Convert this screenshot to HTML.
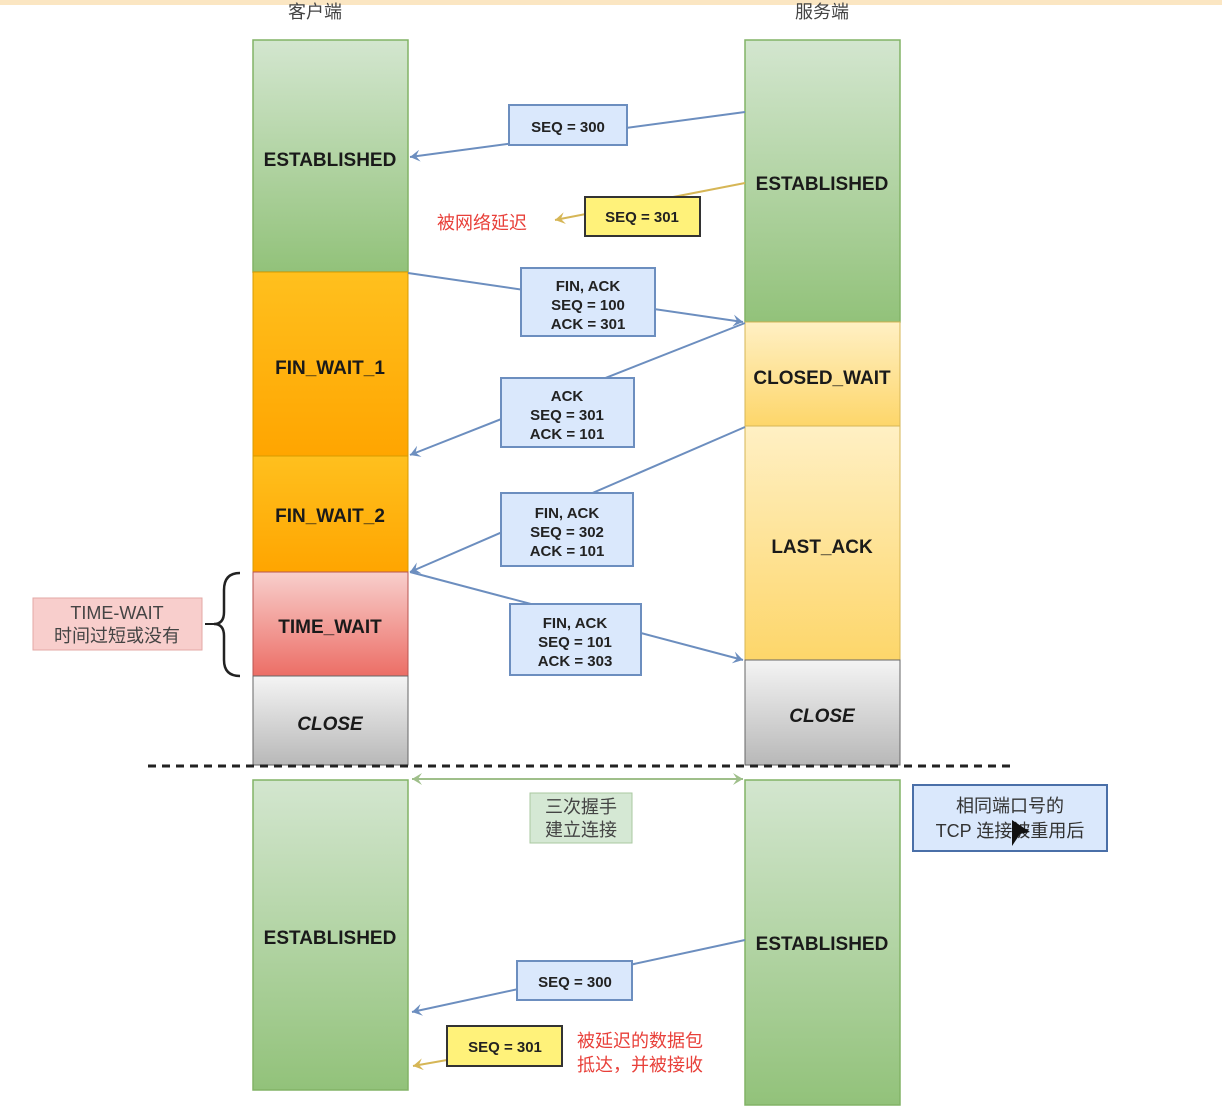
<!DOCTYPE html>
<html><head><meta charset="utf-8"><style>
html,body{margin:0;padding:0;background:#fff;}
svg{display:block;}
text{font-family:"Liberation Sans","Noto Sans CJK SC",sans-serif;}
.s{font-weight:bold;font-size:19px;fill:#1a1a1a;text-anchor:middle;}
.m{font-weight:bold;font-size:15px;fill:#222;text-anchor:middle;}
</style></head><body>
<svg width="1222" height="1118" viewBox="0 0 1222 1118" xmlns="http://www.w3.org/2000/svg">
<defs>
<linearGradient id="g" x1="0" y1="0" x2="0" y2="1"><stop offset="0" stop-color="#d3e6cf"/><stop offset="1" stop-color="#92c27a"/></linearGradient>
<linearGradient id="o" x1="0" y1="0" x2="0" y2="1"><stop offset="0" stop-color="#ffc01e"/><stop offset="1" stop-color="#ffa500"/></linearGradient>
<linearGradient id="y" x1="0" y1="0" x2="0" y2="1"><stop offset="0" stop-color="#fff0c4"/><stop offset="1" stop-color="#fdd66a"/></linearGradient>
<linearGradient id="r" x1="0" y1="0" x2="0" y2="1"><stop offset="0" stop-color="#f8cfcc"/><stop offset="1" stop-color="#ec6e66"/></linearGradient>
<linearGradient id="c" x1="0" y1="0" x2="0" y2="1"><stop offset="0" stop-color="#f4f4f4"/><stop offset="1" stop-color="#b8b8b8"/></linearGradient>
<marker id="ab" markerWidth="12" markerHeight="12" refX="10" refY="6" orient="auto" markerUnits="userSpaceOnUse"><path d="M0,0 L10,6 L0,12 L4,6 z" fill="#6c8ebf"/></marker>
<marker id="ay" markerWidth="12" markerHeight="12" refX="10" refY="6" orient="auto" markerUnits="userSpaceOnUse"><path d="M0,0 L10,6 L0,12 L4,6 z" fill="#d6b656"/></marker>
<marker id="ag" markerWidth="12" markerHeight="12" refX="10" refY="6" orient="auto" markerUnits="userSpaceOnUse"><path d="M0,0 L10,6 L0,12 L4,6 z" fill="#9fbf8a"/></marker>
<marker id="ags" markerWidth="12" markerHeight="12" refX="2" refY="6" orient="auto" markerUnits="userSpaceOnUse"><path d="M12,0 L2,6 L12,12 L8,6 z" fill="#9fbf8a"/></marker>
</defs>
<rect x="0" y="0" width="1222" height="5" fill="#fbe6c2"/>
<text x="315" y="18" font-size="18" fill="#444" text-anchor="middle">客户端</text>
<text x="822" y="18" font-size="18" fill="#444" text-anchor="middle">服务端</text>

<g stroke="#82b366" stroke-width="1.5">
<rect x="253" y="40" width="155" height="232" fill="url(#g)"/>
<rect x="745" y="40" width="155" height="282" fill="url(#g)"/>
<rect x="253" y="780" width="155" height="310" fill="url(#g)"/>
<rect x="745" y="780" width="155" height="325" fill="url(#g)"/>
</g>
<g stroke="#d79b00" stroke-width="1">
<rect x="253" y="272" width="155" height="184" fill="url(#o)"/>
<rect x="253" y="456" width="155" height="116" fill="url(#o)"/>
</g>
<g stroke="#d6b656" stroke-width="1">
<rect x="745" y="322" width="155" height="104" fill="url(#y)"/>
<rect x="745" y="426" width="155" height="234" fill="url(#y)"/>
</g>
<rect x="253" y="572" width="155" height="104" fill="url(#r)" stroke="#b85450"/>
<rect x="253" y="676" width="155" height="89" fill="url(#c)" stroke="#666"/>
<rect x="745" y="660" width="155" height="105" fill="url(#c)" stroke="#666"/>

<text class="s" x="330" y="166">ESTABLISHED</text>
<text class="s" x="822" y="190">ESTABLISHED</text>
<text class="s" x="330" y="374">FIN_WAIT_1</text>
<text class="s" x="330" y="522">FIN_WAIT_2</text>
<text class="s" x="330" y="633">TIME_WAIT</text>
<text class="s" x="330" y="730" font-style="italic">CLOSE</text>
<text class="s" x="822" y="384">CLOSED_WAIT</text>
<text class="s" x="822" y="553">LAST_ACK</text>
<text class="s" x="822" y="722" font-style="italic">CLOSE</text>
<text class="s" x="330" y="944">ESTABLISHED</text>
<text class="s" x="822" y="950">ESTABLISHED</text>

<line x1="148" y1="766" x2="1012" y2="766" stroke="#222" stroke-width="3" stroke-dasharray="8,6"/>

<g stroke="#6c8ebf" stroke-width="2" fill="none">
<line x1="745" y1="112" x2="410" y2="157" marker-end="url(#ab)"/>
<line x1="408" y1="273" x2="743" y2="322" marker-end="url(#ab)"/>
<line x1="745" y1="323" x2="410" y2="455" marker-end="url(#ab)"/>
<line x1="745" y1="427" x2="410" y2="572" marker-end="url(#ab)"/>
<line x1="410" y1="572" x2="743" y2="660" marker-end="url(#ab)"/>
<line x1="745" y1="940" x2="412" y2="1012" marker-end="url(#ab)"/>
</g>
<g stroke="#d6b656" stroke-width="2" fill="none">
<line x1="745" y1="183" x2="555" y2="220" marker-end="url(#ay)"/>
<line x1="447" y1="1060" x2="413" y2="1066" marker-end="url(#ay)"/>
</g>
<line x1="412" y1="779" x2="743" y2="779" stroke="#9fbf8a" stroke-width="2" marker-end="url(#ag)" marker-start="url(#ags)"/>

<g fill="#dae8fc" stroke="#6c8ebf" stroke-width="2">
<rect x="509" y="105" width="118" height="40"/>
<rect x="521" y="268" width="134" height="68"/>
<rect x="501" y="378" width="133" height="69"/>
<rect x="501" y="493" width="132" height="73"/>
<rect x="510" y="604" width="131" height="71"/>
<rect x="517" y="961" width="115" height="39"/>
</g>
<g fill="#fff2a0" stroke="#333" stroke-width="2">
<rect x="585" y="197" width="115" height="39" fill="#fff27a"/>
<rect x="447" y="1026" width="115" height="40" fill="#fff27a"/>
</g>
<text class="m" x="568" y="132">SEQ = 300</text>
<text class="m" x="642" y="222">SEQ = 301</text>
<text class="m" x="588" y="291">FIN, ACK</text>
<text class="m" x="588" y="310">SEQ = 100</text>
<text class="m" x="588" y="329">ACK = 301</text>
<text class="m" x="567" y="401">ACK</text>
<text class="m" x="567" y="420">SEQ = 301</text>
<text class="m" x="567" y="439">ACK = 101</text>
<text class="m" x="567" y="518">FIN, ACK</text>
<text class="m" x="567" y="537">SEQ = 302</text>
<text class="m" x="567" y="556">ACK = 101</text>
<text class="m" x="575" y="628">FIN, ACK</text>
<text class="m" x="575" y="647">SEQ = 101</text>
<text class="m" x="575" y="666">ACK = 303</text>
<text class="m" x="575" y="987">SEQ = 300</text>
<text class="m" x="505" y="1052">SEQ = 301</text>

<text x="437" y="229" font-size="18" fill="#e8403a">被网络延迟</text>
<text x="577" y="1047" font-size="18" fill="#e8403a">被延迟的数据包</text>
<text x="577" y="1071" font-size="18" fill="#e8403a">抵达，并被接收</text>

<rect x="530" y="793" width="102" height="50" fill="#d5e8d4" stroke="#aac8a0"/>
<text x="581" y="813" font-size="18" fill="#444" text-anchor="middle">三次握手</text>
<text x="581" y="836" font-size="18" fill="#444" text-anchor="middle">建立连接</text>

<rect x="913" y="785" width="194" height="66" fill="#dae8fc" stroke="#4a6fa8" stroke-width="2"/>
<text x="1010" y="812" font-size="18" fill="#333" text-anchor="middle">相同端口号的</text>
<text x="1010" y="837" font-size="18" fill="#333" text-anchor="middle">TCP 连接被重用后</text>
<path d="M1012,820 L1030,832 L1020,834 L1012,846 z" fill="#111"/>

<rect x="33" y="598" width="169" height="52" fill="#f8cecc" stroke="#e3a8a6"/>
<text x="117" y="619" font-size="18" fill="#444" text-anchor="middle">TIME-WAIT</text>
<text x="117" y="642" font-size="18" fill="#444" text-anchor="middle">时间过短或没有</text>
<path d="M240,573 Q224,573 224,590 L224,612 Q224,624 214,624 Q224,624 224,636 L224,660 Q224,676 240,676" fill="none" stroke="#222" stroke-width="2.5"/>
<line x1="205" y1="624" x2="214" y2="624" stroke="#222" stroke-width="2"/>
</svg>
</body></html>
